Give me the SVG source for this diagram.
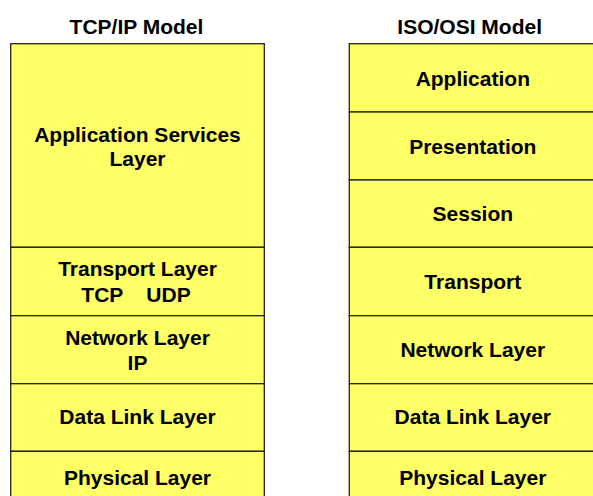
<svg xmlns="http://www.w3.org/2000/svg" width="593" height="496" viewBox="0 0 593 496">
  <style>
    .layer { fill: #FFFF66; stroke: #222; stroke-width: 1.3; }
    .title, .label { font-family: "Liberation Sans", Arial, sans-serif; font-weight: bold; font-size: 21px; fill: #000; text-anchor: middle; }
  </style>
  <rect width="593" height="496" fill="#fff"/>

  <!-- TCP/IP stack -->
  <g id="tcpip">
    <text class="title" x="136.5" y="33.5">TCP/IP Model</text>
    <g id="tcp-app">
      <rect class="layer" x="10.7" y="43.7" width="253.6" height="203.6"/>
      <text class="label" x="137.5" y="141.7">Application Services</text>
      <text class="label" x="137.5" y="165.7">Layer</text>
    </g>
    <g id="tcp-transport">
      <rect class="layer" x="10.7" y="247.3" width="253.6" height="68.4"/>
      <text class="label" x="137.5" y="276">Transport Layer</text>
      <text class="label" x="136" y="301.7" xml:space="preserve">TCP    UDP</text>
    </g>
    <g id="tcp-network">
      <rect class="layer" x="10.7" y="315.7" width="253.6" height="68"/>
      <text class="label" x="137.5" y="345">Network Layer</text>
      <text class="label" x="137.5" y="370">IP</text>
    </g>
    <g id="tcp-datalink">
      <rect class="layer" x="10.7" y="383.7" width="253.6" height="67.6"/>
      <text class="label" x="137.5" y="424.3">Data Link Layer</text>
    </g>
    <g id="tcp-physical">
      <rect class="layer" x="10.7" y="451.3" width="253.6" height="60"/>
      <text class="label" x="137.5" y="485">Physical Layer</text>
    </g>
  </g>

  <!-- ISO/OSI stack -->
  <g id="osi">
    <text class="title" x="469.7" y="33.5">ISO/OSI Model</text>
    <g id="osi-application">
      <rect class="layer" x="349.3" y="43.7" width="250" height="68.3"/>
      <text class="label" x="472.8" y="86">Application</text>
    </g>
    <g id="osi-presentation">
      <rect class="layer" x="349.3" y="112" width="250" height="68"/>
      <text class="label" x="472.8" y="154">Presentation</text>
    </g>
    <g id="osi-session">
      <rect class="layer" x="349.3" y="180" width="250" height="67.3"/>
      <text class="label" x="472.8" y="220.7">Session</text>
    </g>
    <g id="osi-transport">
      <rect class="layer" x="349.3" y="247.3" width="250" height="68.4"/>
      <text class="label" x="472.8" y="289.3">Transport</text>
    </g>
    <g id="osi-network">
      <rect class="layer" x="349.3" y="315.7" width="250" height="68"/>
      <text class="label" x="472.8" y="356.7">Network Layer</text>
    </g>
    <g id="osi-datalink">
      <rect class="layer" x="349.3" y="383.7" width="250" height="67.6"/>
      <text class="label" x="472.8" y="424.3">Data Link Layer</text>
    </g>
    <g id="osi-physical">
      <rect class="layer" x="349.3" y="451.3" width="250" height="60"/>
      <text class="label" x="472.8" y="485">Physical Layer</text>
    </g>
  </g>

  <g id="connectors"/>
</svg>
